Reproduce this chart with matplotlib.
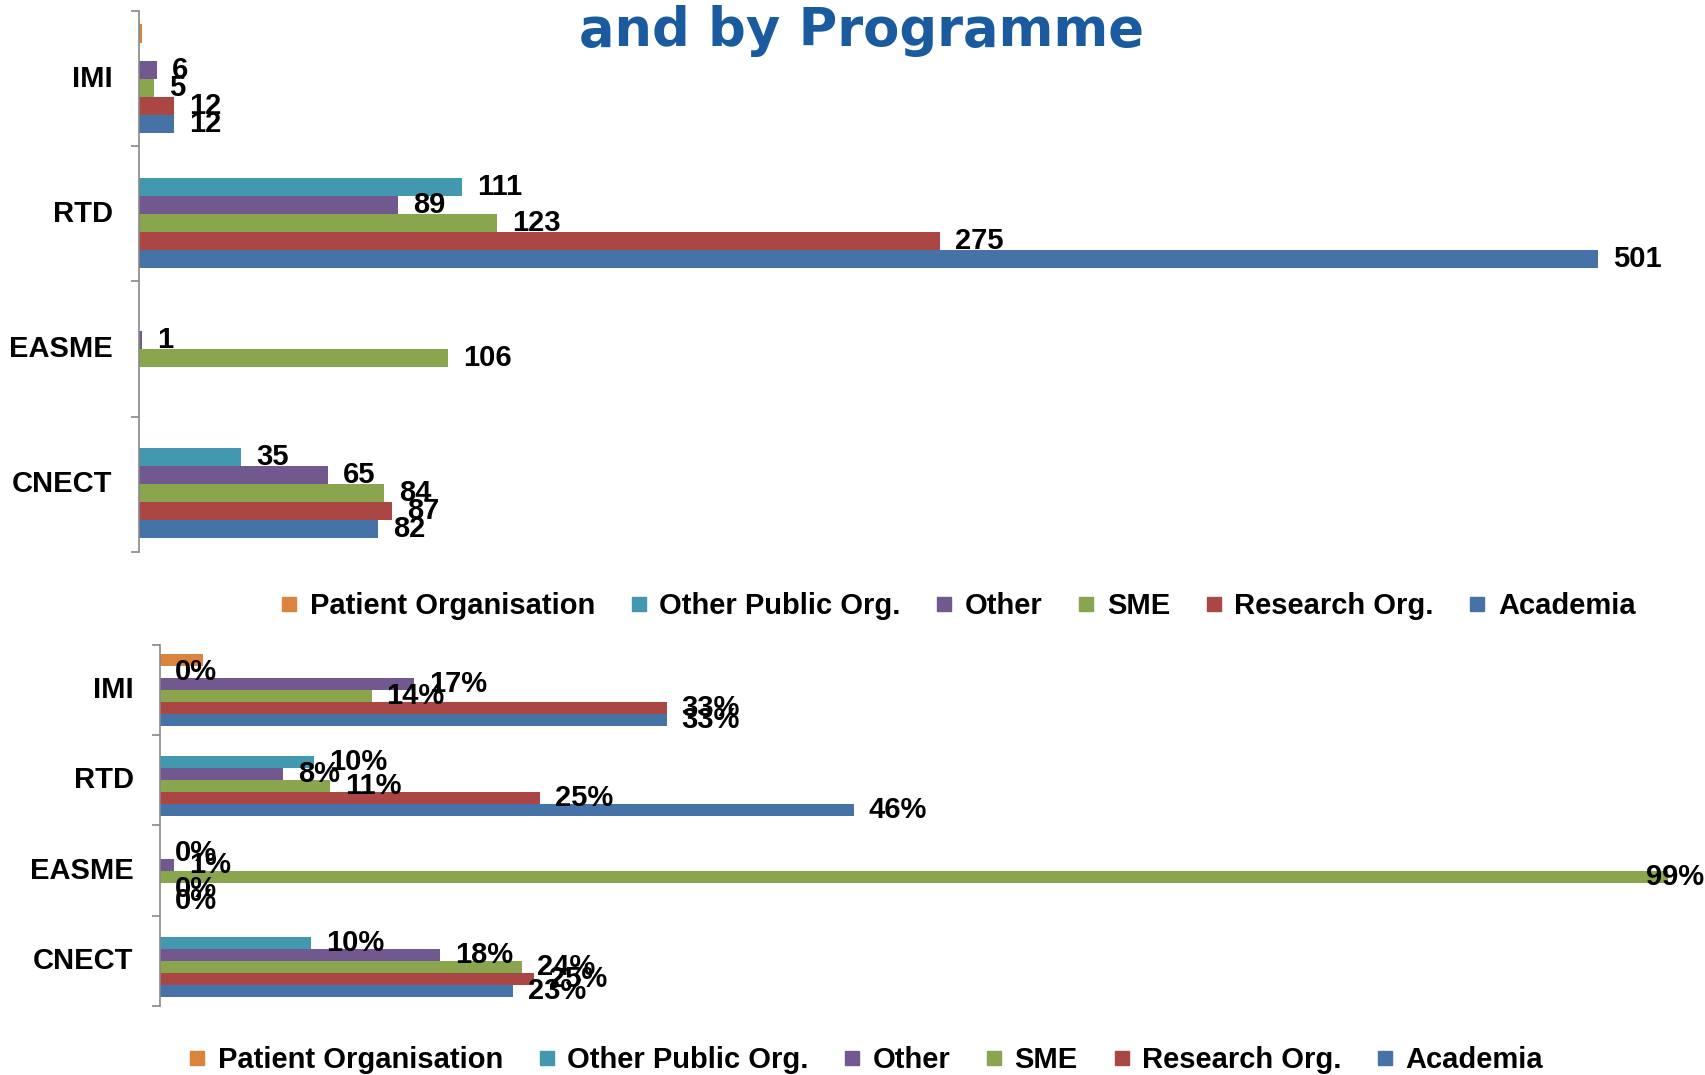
import numpy as np
import matplotlib.pyplot as plt
from matplotlib.lines import Line2D

plt.rcParams['font.family'] = ['Liberation Sans', 'DejaVu Sans']
plt.rcParams['font.weight'] = 'bold'

# programmes, listed bottom to top
programmes = ['CNECT', 'EASME', 'RTD', 'IMI']
series = ['Patient Organisation', 'Other Public Org.', 'Other', 'SME', 'Research Org.', 'Academia']
colors = ['#DB843D', '#4198AF', '#71588F', '#89A54E', '#AA4643', '#4572A7']

# number of participants (blank = nan)
patient_org = [np.nan, np.nan, np.nan, 1]
other_public = [35, np.nan, 111, np.nan]
other = [65, 1, 89, 6]
sme = [84, 106, 123, 5]
research_org = [87, np.nan, 275, 12]
academia = [82, np.nan, 501, 12]

# share per programme (%)
patient_org_pct = [0, 0, 0, 2.8]
other_public_pct = [9.9, 0, 10.1, 0]
other_pct = [18.4, 0.9, 8.1, 16.7]
sme_pct = [23.8, 99.1, 11.2, 13.9]
research_org_pct = [24.6, 0, 25.0, 33.3]
academia_pct = [23.2, 0, 45.6, 33.3]

counts = [patient_org, other_public, other, sme, research_org, academia]
shares = [patient_org_pct, other_public_pct, other_pct, sme_pct, research_org_pct, academia_pct]

FS = 21


def draw(ax, data, xmax, fmt):
    y = np.arange(len(programmes))
    h = 0.8 / 6
    for i, (vals, c) in enumerate(zip(data, colors)):
        pos = y + (2.5 - i) * h
        vals = np.array(vals, dtype=float)
        ax.barh(pos, np.nan_to_num(vals), height=h, color=c, edgecolor='none')
        if i == 0:
            continue  # patient organisation has no data labels
        for p, v in zip(pos, vals):
            if np.isnan(v):
                continue
            if v > 0.96 * xmax:
                # label pushed back inside the plot area
                ax.annotate(fmt(v), (xmax, p), xytext=(-2, 0), textcoords='offset pixels',
                            ha='right', va='center', fontsize=FS, fontweight='bold',
                            annotation_clip=False)
            else:
                ax.annotate(fmt(v), (v, p), xytext=(15, 0), textcoords='offset pixels',
                            ha='left', va='center', fontsize=FS, fontweight='bold',
                            annotation_clip=False)
    ax.set_xlim(0, xmax)
    ax.set_ylim(-0.5, len(programmes) - 0.5)
    ax.set_yticks(y)
    ax.set_yticklabels(programmes, fontsize=FS, fontweight='bold', va='center')
    ax.set_yticks(np.arange(-0.5, len(programmes), 1), minor=True)
    ax.tick_params(axis='y', which='major', length=0, pad=19)
    ax.tick_params(axis='y', which='minor', length=6, width=1.2, color='#888888')
    ax.set_xticks([])
    for s in ['top', 'right', 'bottom']:
        ax.spines[s].set_visible(False)
    ax.spines['left'].set_color('#888888')
    ax.spines['left'].set_linewidth(1.2)


fig = plt.figure(figsize=(17.06, 10.75), dpi=100)
ax1 = fig.add_axes([0.0815, 0.4865, 0.9185, 0.5033])
ax2 = fig.add_axes([0.0938, 0.0642, 0.9062, 0.3358])

draw(ax1, counts, 538, lambda v: '%d' % v)
draw(ax2, shares, 101.6, lambda v: '%.0f%%' % v)

fig.text(0.505, 0.957, 'and by Programme', ha='center', va='baseline', fontsize=38,
         fontweight='bold', color='#1A5A9E', family='DejaVu Sans')

handles = [Line2D([], [], marker='s', linestyle='none', color=c, markersize=9.5) for c in colors]
for cx, cy in [(0.562, 0.436), (0.508, 0.014)]:
    fig.legend(handles, series, loc='center', bbox_to_anchor=(cx, cy), ncol=6, frameon=False,
               fontsize=FS, handlelength=0.5, handletextpad=0.45, columnspacing=1.25)

plt.savefig('out.png', dpi=100)
